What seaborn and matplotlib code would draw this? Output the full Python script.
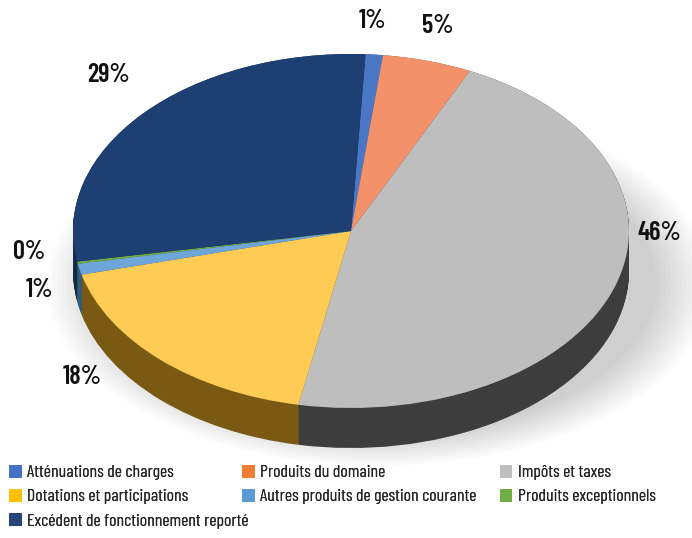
import numpy as np
import matplotlib
matplotlib.use("Agg")
import matplotlib.pyplot as plt
from matplotlib.patches import Ellipse, Patch
import seaborn as sns

# budget shares (%)
categories = ["Atténuations de charges", "Produits du domaine", "Impôts et taxes",
              "Dotations et participations", "Autres produits de gestion courante",
              "Produits exceptionnels", "Excédent de fonctionnement reporté"]
shares = [1.0, 5.2, 46.0, 18.0, 1.0, 0.2, 28.6]
pct_labels = [f"{round(v):.0f}%" for v in shares]

top_colors = ["#4A78C6", "#F3916A", "#BEBEBE", "#FECB55", "#6FA6DA", "#70AD47", "#1E3F72"]
side_colors = ["#22407A", "#8A4A28", "#3D3D3D", "#7A5912", "#2E5C88", "#3C6426", "#14284A"]
legend_colors = ["#4472C4", "#ED7D31", "#BFBFBF", "#FFC000", "#5B9BD5", "#70AD47", "#264478"]

# where the percentage labels sit (pie radius units)
label_pos = [(0.076, 1.186), (0.313, 1.158), (1.108, -0.011), (-0.968, -0.825),
             (-1.119, -0.333), (-1.158, -0.119), (-0.874, 0.881)]

sns.set_theme(style="white")
plt.rcParams["font.family"] = ["Barlow Condensed", "DejaVu Sans"]

fig = plt.figure(figsize=(6.92, 5.38), dpi=100)
ax = fig.add_axes([0, 0, 1, 1])

start = 87
depth = 0.226

# soft shadow under the pie
for k in range(12):
    ax.add_patch(Ellipse((0.1, -0.3), 2.0 + 0.035 * k, 1.72 + 0.03 * k,
                         color="#000000", alpha=0.016, lw=0, zorder=0))

# side wall: stack of darker pies pushed down
for t in np.linspace(depth, 0, 45):
    ax.pie(shares, colors=side_colors, startangle=start, counterclock=False,
           center=(0, -t), radius=1, wedgeprops=dict(linewidth=0))

# top face
wedges, _ = ax.pie(shares, colors=top_colors, startangle=start, counterclock=False,
                   center=(0, 0), radius=1, wedgeprops=dict(linewidth=0))

for txt, (x, y) in zip(pct_labels, label_pos):
    ax.text(x, y, txt, ha="center", va="center", fontsize=19, fontweight="semibold",
            color="#111111")

ax.set_aspect("auto")
ax.set_xlim(-1.2626, 1.2266)
ax.set_ylim(-1.7345, 1.3051)
ax.axis("off")

# legend laid out in rows, one legend per column
legend_cols = [[0, 3, 6], [1, 4], [2, 5]]
col_x = [0.013, 0.35, 0.722]
for idx, x0 in zip(legend_cols, col_x):
    handles = [Patch(facecolor=legend_colors[i], edgecolor="none") for i in idx]
    labels = [categories[i] for i in idx]
    fig.add_artist(fig.legend(handles, labels, loc="upper left", bbox_to_anchor=(x0, 0.136),
                              frameon=False, fontsize=12.8, handlelength=0.72,
                              handleheight=0.72, handletextpad=0.3, labelspacing=0.48,
                              borderaxespad=0, borderpad=0))

fig.savefig("out.png", dpi=100)
